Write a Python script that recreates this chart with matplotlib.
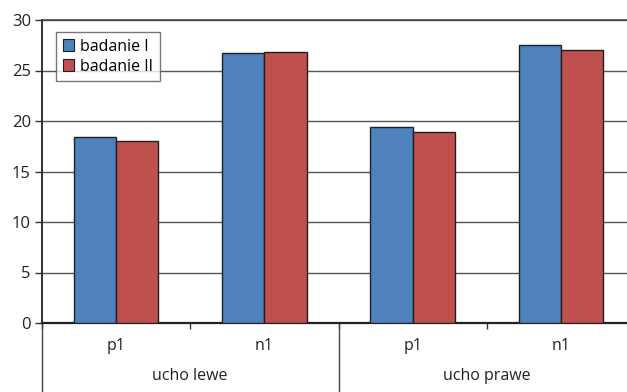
import matplotlib
matplotlib.use("Agg")
import matplotlib.pyplot as plt
from matplotlib.patches import Patch
import numpy as np

plt.rcParams['font.family'] = ['Open Sans', 'DejaVu Sans']

groups = ["ucho lewe", "ucho prawe"]
categories = ["p1", "n1", "p1", "n1"]
badanie_1 = [18.4, 26.7, 19.4, 27.5]
badanie_2 = [18.0, 26.8, 18.9, 27.0]
series_names = ["badanie I", "badanie II"]
colors = ["#4F81BD", "#C0504D"]
yticks = [0, 5, 10, 15, 20, 25, 30]

W, H = 627, 392
fig = plt.figure(figsize=(W / 100, H / 100), dpi=100)
left, bottom, width, height = 42 / W, 69 / H, 593 / W, 303 / H
ax = fig.add_axes([left, bottom, width, height])

x = np.arange(len(categories))
bw = 0.285
ax.bar(x - bw / 2, badanie_1, bw, color=colors[0], edgecolor="#1f1f1f", linewidth=1, zorder=3)
ax.bar(x + bw / 2, badanie_2, bw, color=colors[1], edgecolor="#1f1f1f", linewidth=1, zorder=3)

ax.set_xlim(-0.5, len(categories) - 0.5)
ax.set_ylim(0, 30)
ax.set_yticks(yticks)
ax.tick_params(axis="y", direction="out", length=5, width=1, color="#333333",
               labelsize=12, labelcolor="#222222", pad=3)
ax.yaxis.grid(True, color="#555555", linewidth=1, zorder=0)
ax.set_axisbelow(True)

# category boundaries as small ticks on the x axis
ax.set_xticks(np.arange(len(categories) + 1) - 0.5)
ax.set_xticklabels([])
ax.tick_params(axis="x", direction="out", length=4, width=1, color="#333333")

for s in ["right"]:
    ax.spines[s].set_visible(False)
ax.spines["top"].set_color("#444444")
ax.spines["top"].set_linewidth(1.2)
ax.spines["left"].set_color("#222222")
ax.spines["left"].set_linewidth(1.3)
ax.spines["bottom"].set_color("#222222")
ax.spines["bottom"].set_linewidth(1.6)

# category and group labels beneath the axis
trans = ax.get_xaxis_transform()
for i, c in enumerate(categories):
    ax.text(x[i], -0.075, c, transform=trans, ha="center", va="center",
            fontsize=11.5, color="#222222")
for g, name in enumerate(groups):
    ax.text(2 * g + 0.5, -0.175, name, transform=trans, ha="center", va="center",
            fontsize=11.5, color="#222222")
for b in [-0.5, 1.5, 3.5]:
    ax.plot([b, b], [0, -0.25], transform=trans, color="#444444", linewidth=1,
            clip_on=False)

handles = [Patch(facecolor=colors[i], edgecolor="#1f1f1f", linewidth=0.8, label=series_names[i])
           for i in range(2)]
leg = ax.legend(handles=handles, loc="upper left", bbox_to_anchor=(0.024, 0.96),
                fontsize=11.5, frameon=True, fancybox=False, edgecolor="#555555",
                handlelength=0.7, handleheight=0.7, handletextpad=0.4,
                borderpad=0.4, labelspacing=0.25, borderaxespad=0)
leg.get_frame().set_linewidth(1)

fig.savefig("out.png", dpi=100)
